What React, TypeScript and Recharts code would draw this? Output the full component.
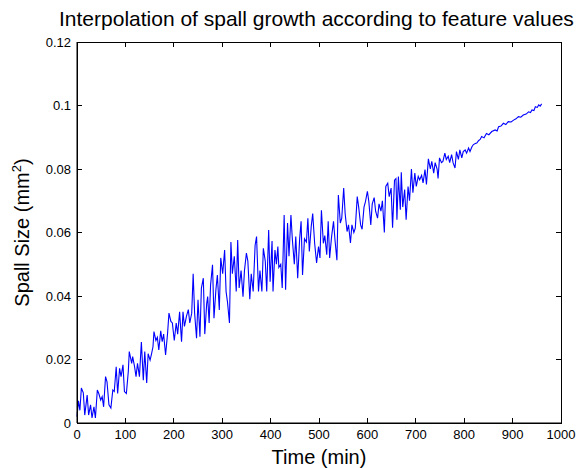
import { LineChart, Line, XAxis, YAxis } from 'recharts'

// minutes
const timeMin = [
  0, 3, 6, 9, 13, 16, 21, 24, 28, 31, 35, 38, 42, 45, 49, 52, 55, 59, 62, 66,
  70, 74, 77, 81, 84, 88, 91, 95, 98, 102, 106, 108, 113, 115, 119, 122, 125, 129, 133, 137,
  140, 144, 147, 151, 154, 157, 159, 163, 166, 169, 173, 176, 179, 183, 187, 190, 194, 197, 201, 205,
  208, 212, 216, 219, 222, 226, 230, 233, 237, 240, 243, 247, 250, 254, 257, 261, 264, 268, 270, 273,
  276, 280, 283, 287, 290, 294, 297, 301, 305, 308, 311, 315, 318, 321, 325, 329, 332, 335, 339, 343,
  346, 350, 353, 357, 360, 364, 368, 371, 375, 378, 382, 385, 389, 392, 396, 399, 403, 405, 409, 412,
  415, 417, 421, 424, 428, 431, 435, 438, 442, 445, 449, 452, 456, 460, 463, 466, 470, 474, 477, 480,
  484, 487, 491, 495, 499, 502, 505, 509, 512, 516, 519, 522, 526, 530, 533, 537, 540, 544, 547, 551,
  554, 558, 561, 565, 568, 572, 575, 579, 582, 586, 589, 593, 596, 600, 603, 607, 610, 614, 617, 621,
  624, 628, 631, 635, 638, 642, 645, 649, 652, 656, 659, 661, 664, 668, 670, 673, 677, 680, 684, 687,
  691, 694, 698, 701, 705, 708, 712, 715, 719, 722, 726, 730, 733, 737, 740, 744, 746, 749, 753, 756,
  760, 763, 767, 770, 774, 777, 781, 784, 788, 791, 795, 798, 802, 805, 809, 812, 816, 819, 823, 826,
  830, 833, 836, 841, 846, 851, 857, 864, 868, 871, 876, 881, 886, 891, 897, 902, 907, 912, 917, 922,
  928, 933, 937, 940, 944, 947, 951, 954, 957, 960,
]

// mm^2
const spallSize = [
  0.002, 0.007, 0.004, 0.011, 0.0095, 0.0025, 0.0088, 0.0025, 0.0057, 0.0016, 0.0051, 0.0016, 0.0104, 0.0093, 0.0072, 0.0083, 0.0051, 0.0146, 0.013, 0.0057,
  0.0047, 0.0104, 0.0099, 0.0177, 0.0093, 0.0172, 0.0146, 0.0183, 0.0099, 0.0093, 0.0162, 0.0225, 0.0188, 0.0209, 0.0177, 0.0146, 0.0188, 0.0146, 0.0255, 0.0135,
  0.0225, 0.0126, 0.0218, 0.0198, 0.0218, 0.024, 0.0288, 0.026, 0.027, 0.023, 0.029, 0.0256, 0.028, 0.0214, 0.028, 0.0346, 0.032, 0.0315, 0.026, 0.0315,
  0.028, 0.035, 0.0256, 0.035, 0.0304, 0.0335, 0.0357, 0.0315, 0.0346, 0.047, 0.0346, 0.0267, 0.0388, 0.0272, 0.0425, 0.0456, 0.028, 0.0377, 0.0398, 0.0315,
  0.0435, 0.0498, 0.033, 0.042, 0.0466, 0.0356, 0.052, 0.047, 0.0545, 0.0414, 0.038, 0.0315, 0.057, 0.047, 0.0525, 0.0414, 0.0576, 0.0425, 0.048, 0.0398,
  0.048, 0.0535, 0.051, 0.039, 0.047, 0.0414, 0.056, 0.0587, 0.0414, 0.048, 0.0414, 0.055, 0.051, 0.0414, 0.0608, 0.0445, 0.0573, 0.0414, 0.0545, 0.05,
  0.0556, 0.049, 0.05, 0.0425, 0.0655, 0.042, 0.063, 0.0525, 0.0655, 0.0577, 0.05, 0.0587, 0.0456, 0.058, 0.0635, 0.0466, 0.058, 0.057, 0.0645, 0.054,
  0.062, 0.066, 0.0566, 0.0504, 0.0556, 0.052, 0.067, 0.0566, 0.059, 0.053, 0.0635, 0.052, 0.0587, 0.0635, 0.0577, 0.0513, 0.0718, 0.063, 0.0645, 0.074,
  0.066, 0.0603, 0.0624, 0.0567, 0.0624, 0.06, 0.0614, 0.0713, 0.068, 0.0624, 0.061, 0.068, 0.0697, 0.073, 0.0697, 0.0624, 0.069, 0.071, 0.0667, 0.0645,
  0.069, 0.0667, 0.07, 0.06, 0.0745, 0.0755, 0.0713, 0.074, 0.0615, 0.0765, 0.077, 0.064, 0.0776, 0.0672, 0.079, 0.068, 0.0735, 0.064, 0.0745, 0.07,
  0.08, 0.0725, 0.0787, 0.0745, 0.0777, 0.0766, 0.078, 0.0756, 0.0798, 0.0751, 0.0832, 0.08, 0.0824, 0.0787, 0.082, 0.08, 0.077, 0.0835, 0.082, 0.0824,
  0.085, 0.083, 0.084, 0.082, 0.0845, 0.082, 0.0803, 0.0855, 0.083, 0.086, 0.0835, 0.0855, 0.086, 0.085, 0.0866, 0.0855, 0.087, 0.0877, 0.088, 0.0882,
  0.089, 0.0893, 0.0902, 0.0898, 0.0912, 0.0908, 0.0918, 0.0923, 0.092, 0.0933, 0.0935, 0.0944, 0.094, 0.0949, 0.0948, 0.0954, 0.0958, 0.0965, 0.0963, 0.097,
  0.0973, 0.098, 0.0978, 0.0986, 0.0984, 0.0996, 0.0994, 0.1002, 0.0998, 0.1005,
]

const timeTicks = [0, 100, 200, 300, 400, 500, 600, 700, 800, 900, 1000]
const sizeTicks = [0, 0.02, 0.04, 0.06, 0.08, 0.1, 0.12]

const data = timeMin.map((t, i) => ({ t, size: spallSize[i] }))

const W = 577
const H = 468
// plot box (MATLAB-style axes frame)
const box = { left: 77, top: 42, right: 561, bottom: 423 }
const xMax = 1000
const yMax = 0.12
const tickLen = 5
const yAxisW = 40
const xAxisH = 45

const font = '"Liberation Sans", Arial, Helvetica, sans-serif'
const tickStyle = { fontSize: 13, fill: '#000', fontFamily: font }

const px = (t: number) => box.left + (t / xMax) * (box.right - box.left)
const py = (v: number) => box.bottom - (v / yMax) * (box.bottom - box.top)

function SpallLabel(props: any) {
  const vb = props.viewBox || { x: 37, y: 42, width: 40, height: 381 }
  const cx = vb.x - 8
  const cy = vb.y + vb.height / 2
  return (
    <text
      x={cx}
      y={cy}
      transform={`rotate(-90 ${cx} ${cy})`}
      textAnchor="middle"
      fontSize={20}
      fontFamily={font}
      fill="#000"
    >
      Spall Size (mm<tspan fontSize={13} dy={-8}>2</tspan>
      <tspan dy={8}>)</tspan>
    </text>
  )
}

// frame + inward ticks on all four sides
function Frame() {
  return (
    <svg width={W} height={H} style={{ position: 'absolute', left: 0, top: 0, pointerEvents: 'none' }}>
      <rect
        x={box.left}
        y={box.top}
        width={box.right - box.left}
        height={box.bottom - box.top}
        fill="none"
        stroke="#000"
        strokeWidth={1}
        shapeRendering="crispEdges"
      />
      {timeTicks.map((t) => (
        <g key={`x${t}`} stroke="#000" shapeRendering="crispEdges">
          <line x1={px(t)} x2={px(t)} y1={box.bottom} y2={box.bottom - tickLen} />
          <line x1={px(t)} x2={px(t)} y1={box.top} y2={box.top + tickLen} />
        </g>
      ))}
      {sizeTicks.map((v) => (
        <g key={`y${v}`} stroke="#000" shapeRendering="crispEdges">
          <line x1={box.left} x2={box.left + tickLen} y1={py(v)} y2={py(v)} />
          <line x1={box.right} x2={box.right - tickLen} y1={py(v)} y2={py(v)} />
        </g>
      ))}
    </svg>
  )
}

export default function App() {
  return (
    <div style={{ position: 'absolute', left: 0, top: 0, width: W, height: H, background: '#fff' }}>
      <div
        style={{
          position: 'absolute',
          left: 59,
          top: 7,
          fontFamily: font,
          fontSize: 21,
          whiteSpace: 'nowrap',
          color: '#000',
        }}
      >
        Interpolation of spall growth according to feature values
      </div>
      <LineChart
        width={W}
        height={H}
        data={data}
        margin={{ top: box.top, right: W - box.right, left: box.left - yAxisW, bottom: H - box.bottom - xAxisH }}
      >
        <XAxis
          dataKey="t"
          type="number"
          domain={[0, xMax]}
          ticks={timeTicks}
          height={xAxisH}
          stroke="#000"
          tickLine={false}
          tickSize={0}
          tickMargin={7}
          tick={tickStyle}
          label={{ value: 'Time (min)', position: 'insideBottom', offset: 4, fontSize: 20, fontFamily: font, fill: '#000' }}
        />
        <YAxis
          type="number"
          domain={[0, yMax]}
          ticks={sizeTicks}
          width={yAxisW}
          stroke="#000"
          tickLine={false}
          tickSize={0}
          tickMargin={6}
          tick={tickStyle}
          tickFormatter={(v: number) => String(Number(v.toFixed(2)))}
          label={<SpallLabel />}
        />
        <Line
          type="linear"
          dataKey="size"
          stroke="#0000ff"
          strokeWidth={1.1}
          dot={false}
          isAnimationActive={false}
        />
      </LineChart>
      <Frame />
    </div>
  )
}
